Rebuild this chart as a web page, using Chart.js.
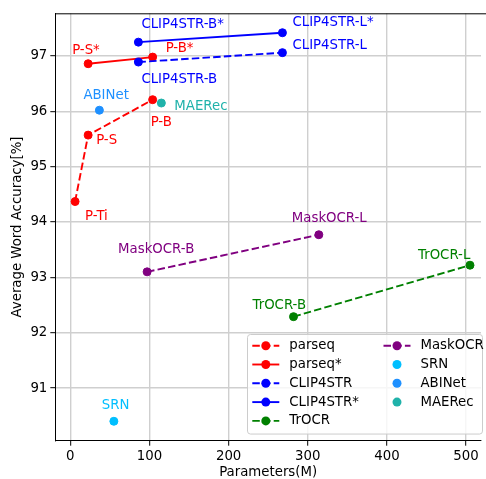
<!DOCTYPE html>
<html><head><meta charset="utf-8">
<script src="https://cdn.jsdelivr.net/npm/chart.js@4.4.0/dist/chart.umd.min.js"></script>
<style>
html,body{margin:0;padding:0;overflow:hidden;background:#fff;width:486px;height:479px}
</style>
</head><body>
<canvas id="c" width="486" height="479" style="display:block;width:486px;height:479px"></canvas>
<script>
// ---- data ----
const parseqParams = [6, 22.5, 104];
const parseqAcc = [94.37, 95.57, 96.21];
const parseqNames = ['P-Ti', 'P-S', 'P-B'];

const parseqStarParams = [22.5, 104];
const parseqStarAcc = [96.86, 96.98];
const parseqStarNames = ['P-S*', 'P-B*'];

const clipParams = [86, 268];
const clipAcc = [96.89, 97.06];
const clipNames = ['CLIP4STR-B', 'CLIP4STR-L'];

const clipStarParams = [86, 268];
const clipStarAcc = [97.25, 97.42];
const clipStarNames = ['CLIP4STR-B*', 'CLIP4STR-L*'];

const trocrParams = [282, 505];
const trocrAcc = [92.29, 93.22];
const trocrNames = ['TrOCR-B', 'TrOCR-L'];

const maskocrParams = [97, 314];
const maskocrAcc = [93.10, 93.77];
const maskocrNames = ['MaskOCR-B', 'MaskOCR-L'];

const srnParams = [55];
const srnAcc = [90.40];
const abinetParams = [36.7];
const abinetAcc = [96.02];
const maerecParams = [115];
const maerecAcc = [96.15];

const xTicks = [0, 100, 200, 300, 400, 500];
const yTicks = [91, 92, 93, 94, 95, 96, 97];

// ---- styling (label offsets in px relative to the point) ----
const labelOffsets = {
  'P-Ti': [10, 15], 'P-S': [8, 5], 'P-B': [-2, 23],
  'P-S*': [-16, -13], 'P-B*': [13, -9],
  'CLIP4STR-B': [3, 17], 'CLIP4STR-L': [10, -7],
  'CLIP4STR-B*': [3, -18], 'CLIP4STR-L*': [10, -10],
  'TrOCR-B': [-41, -11], 'TrOCR-L': [-52, -10],
  'MaskOCR-B': [-29, -22], 'MaskOCR-L': [-27, -16],
  'SRN': [-12, -16], 'ABINet': [-16, -15], 'MAERec': [13, 4]
};
const FONT = 'DejaVu Sans';
const FS = 13.3;
const DASH = [7.5, 3.2];

function pts(xs, ys) { return xs.map((x, i) => ({ x: x, y: ys[i] })); }

function ds(label, xs, ys, color, line, dashed, names, idx) {
  return {
    label: label, data: pts(xs, ys), names: names,
    showLine: line, borderColor: color, backgroundColor: color,
    borderWidth: 1.9, borderDash: dashed ? DASH : [],
    pointRadius: 4, pointHoverRadius: 4, pointBorderWidth: 1,
    pointBackgroundColor: color, pointBorderColor: color,
    legendLine: line, legendDashed: dashed,
    order: 20 - idx
  };
}

const datasets = [
  ds('parseq', parseqParams, parseqAcc, '#ff0000', true, true, parseqNames, 0),
  ds('parseq*', parseqStarParams, parseqStarAcc, '#ff0000', true, false, parseqStarNames, 1),
  ds('CLIP4STR', clipParams, clipAcc, '#0000ff', true, true, clipNames, 2),
  ds('CLIP4STR*', clipStarParams, clipStarAcc, '#0000ff', true, false, clipStarNames, 3),
  ds('TrOCR', trocrParams, trocrAcc, '#008000', true, true, trocrNames, 4),
  ds('MaskOCR', maskocrParams, maskocrAcc, '#800080', true, true, maskocrNames, 5),
  ds('SRN', srnParams, srnAcc, '#00bfff', false, false, ['SRN'], 6),
  ds('ABINet', abinetParams, abinetAcc, '#1e90ff', false, false, ['ABINet'], 7),
  ds('MAERec', maerecParams, maerecAcc, '#20b2aa', false, false, ['MAERec'], 8)
];

const labelsPlugin = {
  id: 'pointLabels',
  afterDatasetsDraw(chart) {
    const ctx = chart.ctx;
    ctx.save();
    ctx.font = FS + 'px "' + FONT + '"';
    ctx.textAlign = 'left';
    ctx.textBaseline = 'middle';
    chart.data.datasets.forEach((d, di) => {
      const meta = chart.getDatasetMeta(di);
      meta.data.forEach((el, i) => {
        const name = d.names[i];
        const off = labelOffsets[name] || [0, 0];
        ctx.fillStyle = d.borderColor;
        ctx.fillText(name, el.x + off[0], el.y + off[1]);
      });
    });
    ctx.restore();
  }
};

const framePlugin = {
  id: 'frameLegend',
  afterDraw(chart) {
    const ctx = chart.ctx, a = chart.chartArea;
    ctx.save();
    // top spine (the right spine lies just outside the picture)
    ctx.strokeStyle = '#000';
    ctx.lineWidth = 1;
    ctx.beginPath();
    ctx.moveTo(a.left, a.top + 0.5);
    ctx.lineTo(a.right + 10, a.top + 0.5);
    ctx.stroke();

    // legend (matplotlib style, lower right, 2 columns, column-major)
    const pad = FS * 0.5;
    const bx = 247.5, by = 334.5;
    const bw = 482.5 - bx, bh = a.bottom - pad - by;
    const r = 3;
    ctx.beginPath();
    ctx.moveTo(bx + r, by);
    ctx.lineTo(bx + bw - r, by); ctx.arcTo(bx + bw, by, bx + bw, by + r, r);
    ctx.lineTo(bx + bw, by + bh - r); ctx.arcTo(bx + bw, by + bh, bx + bw - r, by + bh, r);
    ctx.lineTo(bx + r, by + bh); ctx.arcTo(bx, by + bh, bx, by + bh - r, r);
    ctx.lineTo(bx, by + r); ctx.arcTo(bx, by, bx + r, by, r);
    ctx.closePath();
    ctx.fillStyle = 'rgba(255,255,255,0.8)';
    ctx.fill();
    ctx.strokeStyle = '#cccccc';
    ctx.lineWidth = 1;
    ctx.stroke();

    const dsets = chart.data.datasets;
    const rows = Math.ceil(dsets.length / 2);
    const colX = [252.3, 383.5];
    const rowY0 = 345.7, rowH = 18.8;
    const handleLen = 27;
    ctx.font = FS + 'px "' + FONT + '"';
    ctx.textBaseline = 'middle';
    ctx.textAlign = 'left';
    dsets.forEach((d, i) => {
      const col = Math.floor(i / rows), row = i % rows;
      const x0 = colX[col], y = rowY0 + row * rowH;
      if (d.legendLine) {
        ctx.strokeStyle = d.borderColor;
        ctx.lineWidth = 1.9;
        ctx.setLineDash(d.legendDashed ? DASH : []);
        ctx.beginPath();
        ctx.moveTo(x0, y); ctx.lineTo(x0 + handleLen, y);
        ctx.stroke();
        ctx.setLineDash([]);
      }
      ctx.fillStyle = d.borderColor;
      ctx.beginPath();
      ctx.arc(x0 + handleLen / 2, y, 4.5, 0, Math.PI * 2);
      ctx.fill();
      ctx.fillStyle = '#000';
      ctx.fillText(d.label, x0 + 37, y);
    });
    ctx.restore();
  }
};

Chart.defaults.font.family = FONT;
Chart.defaults.font.size = FS;
Chart.defaults.color = '#000';

new Chart(document.getElementById('c'), {
  type: 'scatter',
  data: { datasets: datasets },
  options: {
    responsive: false,
    devicePixelRatio: 1,
    animation: false,
    events: [],
    layout: { padding: { top: 13.3, left: 0, right: 0, bottom: 0 } },
    plugins: { legend: { display: false }, tooltip: { enabled: false } },
    scales: {
      x: {
        type: 'linear', min: -19, max: 518.9,
        afterBuildTicks: s => { s.ticks = xTicks.map(v => ({ value: v })); },
        afterFit: s => { s.height = 38.3; s.paddingLeft = 0; s.paddingRight = 0; s.paddingTop = 0; s.paddingBottom = 0; },
        grid: { color: '#cfcfcf', lineWidth: 1.4, tickColor: '#000', tickLength: 5, tickWidth: 1 },
        border: { color: '#000', width: 1 },
        ticks: { padding: 3, font: { size: FS }, color: '#000', maxRotation: 0 },
        title: { display: true, text: 'Parameters(M)', font: { size: FS }, color: '#000', padding: { top: 0, bottom: -2 } }
      },
      y: {
        type: 'linear', min: 90.049, max: 97.771,
        afterBuildTicks: s => { s.ticks = yTicks.map(v => ({ value: v })); },
        afterFit: s => { s.width = 55.3; s.paddingLeft = 0; s.paddingRight = 0; s.paddingTop = 0; s.paddingBottom = 0; },
        grid: { color: '#cfcfcf', lineWidth: 1.4, tickColor: '#000', tickLength: 5, tickWidth: 1 },
        border: { color: '#000', width: 1 },
        ticks: { padding: 3, font: { size: FS }, color: '#000' },
        title: { display: true, text: 'Average Word Accuracy[%]', font: { size: FS }, color: '#000', padding: { top: 9.5, bottom: 0 } }
      }
    }
  },
  plugins: [labelsPlugin, framePlugin]
});
</script>
</body></html>
